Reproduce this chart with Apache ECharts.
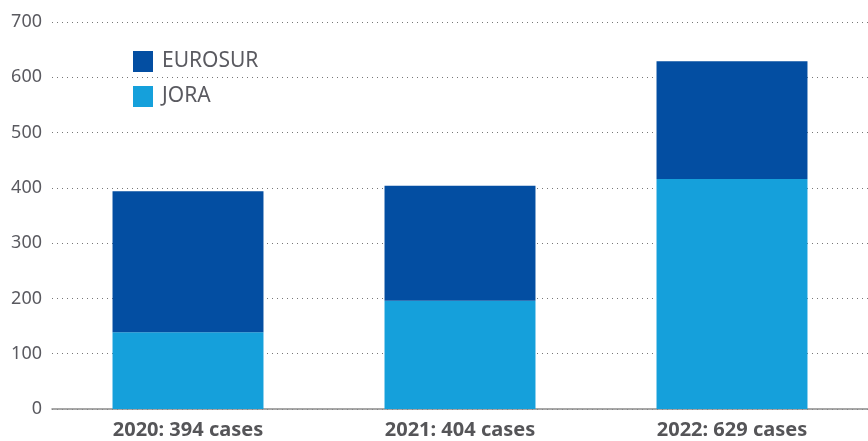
<!DOCTYPE html>
<html>
<head>
<meta charset="utf-8">
<script src="https://cdn.jsdelivr.net/npm/echarts@6/dist/echarts.min.js"></script>
<style>
  html, body { margin: 0; padding: 0; background: #fff; }
  #chart { width: 868px; height: 441px; }
</style>
</head>
<body>
<div id="chart"></div>
<script>
// values
const categories = ['2020: 394 cases', '2021: 404 cases', '2022: 629 cases']
const jora = [139, 196, 416]
const eurosur = [255, 208, 213]
const yTicks = [0, 100, 200, 300, 400, 500, 600, 700]

const myChart = echarts.init(document.getElementById('chart'))

const option = {
  animation: false,
  textStyle: { fontFamily: 'Noto Sans' },
  grid: { left: 52, right: 0, top: 22, bottom: 32, containLabel: false },
  legend: {
    orient: 'vertical',
    left: 128,
    top: 46,
    itemWidth: 20,
    itemHeight: 21,
    itemGap: 14,
    icon: 'rect',
    data: ['EUROSUR', 'JORA'],
    textStyle: { color: '#5a5a60', fontSize: 21, padding: [0, 0, 0, 4] }
  },
  xAxis: {
    type: 'category',
    data: categories,
    axisTick: { show: false },
    axisLine: { lineStyle: { color: '#8a8a8a', width: 1.5 } },
    axisLabel: { color: '#555558', fontSize: 20, fontWeight: 'bold', margin: 11 }
  },
  yAxis: {
    type: 'value',
    min: yTicks[0],
    max: yTicks[yTicks.length - 1],
    interval: 100,
    axisLine: { show: false },
    axisTick: { show: false },
    axisLabel: { color: '#5a5a60', fontSize: 18, margin: 10 },
    splitLine: { lineStyle: { color: '#777', type: [1, 4], width: 1 } }
  },
  series: [
    {
      name: 'JORA',
      type: 'bar',
      stack: 'total',
      barWidth: '55.5%',
      itemStyle: { color: '#15a0db' },
      data: jora
    },
    {
      name: 'EUROSUR',
      type: 'bar',
      stack: 'total',
      itemStyle: { color: '#034ea2' },
      data: eurosur
    }
  ]
}
myChart.setOption(option)
</script>
</body>
</html>
